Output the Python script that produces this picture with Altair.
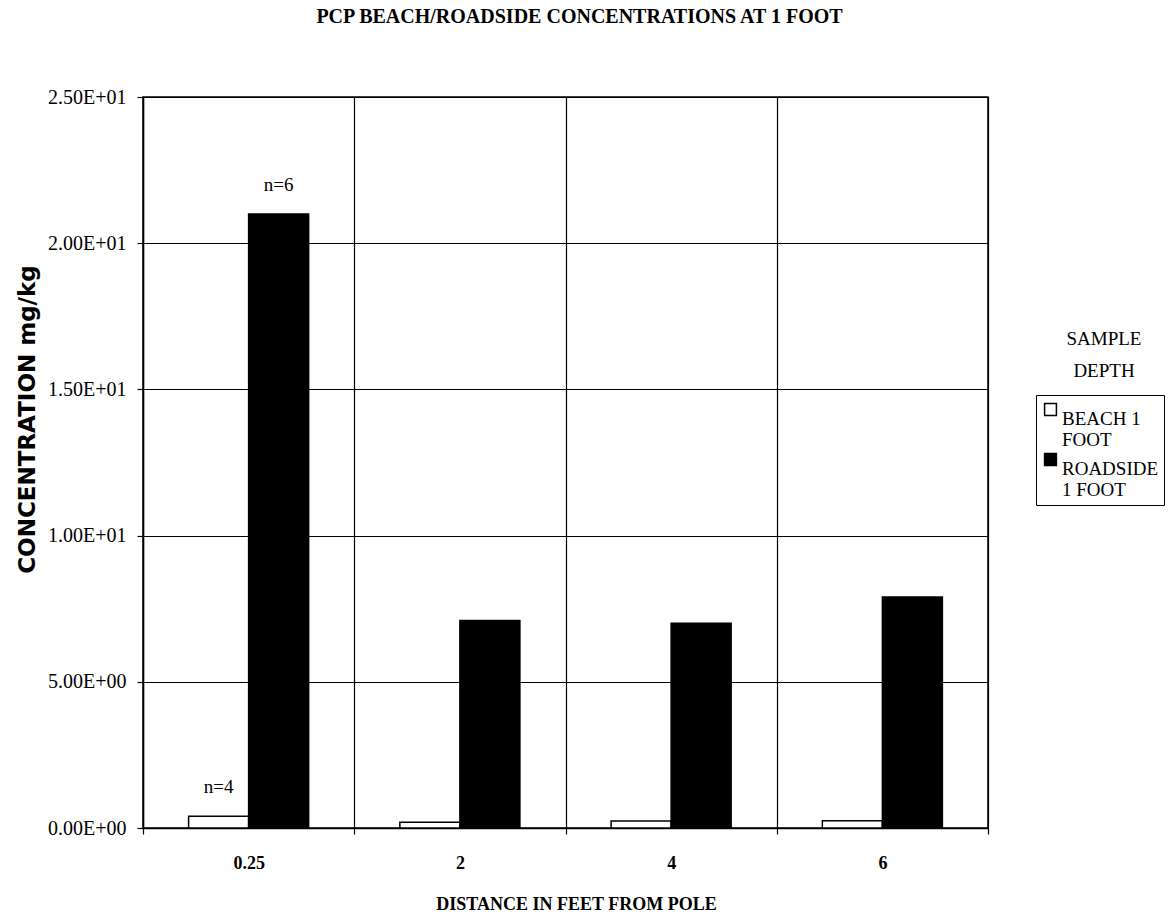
import altair as alt
import pandas as pd

# Distance from the pole (ft) and mean PCP concentration (mg/kg) at 1 foot depth
distances = ["0.25", "2", "4", "6"]
beach = [0.40, 0.20, 0.24, 0.25]
roadside = [21.0, 7.1, 7.0, 7.9]
series = ["BEACH 1 FOOT", "ROADSIDE 1 FOOT"]
sample_counts = [["n=4", "", "", ""], ["n=6", "", "", ""]]

rows = []
for name, vals, notes in zip(series, [beach, roadside], sample_counts):
    for d, v, n in zip(distances, vals, notes):
        rows.append({"distance": d, "depth": name, "conc": v, "note": n})
df = pd.DataFrame(rows)

SERIF = "Liberation Serif"
W, H = 845, 731

x_enc = alt.X(
    "distance:N",
    sort=distances,
    title="DISTANCE IN FEET FROM POLE",
    scale=alt.Scale(paddingInner=0, paddingOuter=0),
    axis=alt.Axis(
        labelAngle=0,
        tickBand="extent",
        grid=True,
        labelFont=SERIF,
        labelFontSize=18,
        labelFontWeight="bold",
        labelPadding=20,
        titleFont=SERIF,
        titleFontSize=18,
        titleFontWeight="bold",
        titleX=433,
        titleY=76,
        titleBaseline="middle",
    ),
)
xoff_enc = alt.XOffset(
    "depth:N", sort=series, scale=alt.Scale(paddingOuter=0.76, paddingInner=0)
)
y_enc = alt.Y(
    "conc:Q",
    title="CONCENTRATION  mg/kg",
    scale=alt.Scale(domain=[0, 25], nice=False),
    axis=alt.Axis(
        values=[0, 5, 10, 15, 20, 25],
        labelExpr=(
            "datum.value == 0 ? '0.00E+00' : datum.value < 10 ? "
            "format(datum.value, '.2f') + 'E+00' : "
            "format(datum.value / 10, '.2f') + 'E+01'"
        ),
        labelFont=SERIF,
        labelFontSize=20,
        labelPadding=11,
        titleFont="DejaVu Sans",
        titleFontSize=23,
        titleFontWeight="bold",
        titleAngle=270,
        titleX=-116,
        titleY=322,
        titleAlign="center",
        titleBaseline="middle",
    ),
)

bars = alt.Chart(df).mark_bar(stroke="black", strokeWidth=1.5).encode(
    x=x_enc,
    xOffset=xoff_enc,
    y=y_enc,
    fill=alt.Fill(
        "depth:N",
        sort=series,
        scale=alt.Scale(domain=series, range=["white", "black"]),
        legend=alt.Legend(
            title=None,
            orient="none",
            legendX=893,
            legendY=298,
            strokeColor="black",
            padding=5,
            symbolType="square",
            symbolSize=140,
            symbolStrokeColor="black",
            symbolStrokeWidth=1.5,
            labelFont=SERIF,
            labelFontSize=19,
            labelLimit=200,
            labelBaseline="top",
            labelOffset=2,
            rowPadding=-8,
            labelExpr="datum.label == 'BEACH 1 FOOT' ? ['BEACH 1', 'FOOT'] : ['ROADSIDE', '1 FOOT']",
        ),
    ),
)

notes = alt.Chart(df).mark_text(font=SERIF, fontSize=19, dy=-29, baseline="middle").encode(
    x=alt.X("distance:N", sort=distances),
    xOffset=alt.XOffset("depth:N", sort=series),
    y="conc:Q",
    text="note:N",
)

legend_title = alt.Chart(pd.DataFrame({"k": [0]})).mark_text(
    text=["SAMPLE", "DEPTH"],
    font=SERIF,
    fontSize=19,
    lineHeight=32,
    align="center",
    baseline="middle",
).encode(x=alt.value(961), y=alt.value(242))

chart = (
    alt.layer(bars, notes, legend_title)
    .properties(
        width=W,
        height=H,
        autosize=alt.AutoSizeParams(type="none"),
        padding={"left": 143, "top": 97, "right": 188, "bottom": 92},
        title=alt.Title(
            "PCP BEACH/ROADSIDE CONCENTRATIONS AT 1 FOOT",
            font=SERIF,
            fontSize=20,
            fontWeight="bold",
            frame="group",
            anchor="middle",
            dx=14,
            offset=60,
            color="black",
        ),
    )
    .configure(background="white")
    .configure_view(stroke="black", strokeWidth=1.5)
    .configure_axis(
        domainColor="black",
        domainWidth=1.5,
        tickColor="black",
        tickSize=6,
        tickWidth=1.2,
        gridColor="black",
        gridOpacity=1,
        gridWidth=1.2,
        labelColor="black",
        titleColor="black",
    )
)

chart.save("out.html", embed_options={"renderer": "svg", "actions": False})
